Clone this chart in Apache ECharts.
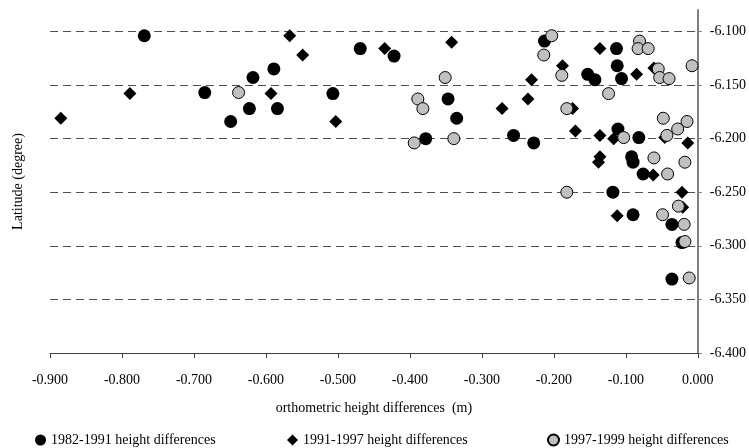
<!DOCTYPE html>
<html>
<head>
<meta charset="utf-8">
<script src="https://cdn.jsdelivr.net/npm/echarts@6/dist/echarts.min.js"></script>
<style>
  html, body { margin: 0; padding: 0; background: #fff; }
  #chart { width: 749px; height: 448px; }
</style>
</head>
<body>
<div id="chart"></div>
<script>
  // 1982-1991 height differences (m), latitude (degree)
  var diff8291 = [-0.769, -0.469, -0.589, -0.618, -0.685, -0.507, -0.623, -0.584, -0.649, -0.422,
    -0.347, -0.335, -0.378, -0.256, -0.228, -0.153, -0.143, -0.112, -0.106, -0.213,
    -0.113, -0.111, -0.082, -0.092, -0.090, -0.076, -0.118, -0.090, -0.036, -0.022, -0.036];
  var lat8291 = [-6.104, -6.116, -6.135, -6.143, -6.157, -6.158, -6.172, -6.172, -6.184, -6.123,
    -6.163, -6.181, -6.200, -6.197, -6.204, -6.140, -6.145, -6.132, -6.144, -6.109,
    -6.116, -6.191, -6.199, -6.217, -6.222, -6.233, -6.250, -6.271, -6.280, -6.297, -6.331];

  // 1991-1997
  var diff9197 = [-0.885, -0.789, -0.593, -0.567, -0.549, -0.503, -0.435, -0.342, -0.272, -0.236,
    -0.231, -0.188, -0.174, -0.170, -0.136, -0.136, -0.117, -0.136, -0.138, -0.085,
    -0.061, -0.046, -0.062, -0.112, -0.014, -0.022, -0.021];
  var lat9197 = [-6.181, -6.158, -6.158, -6.104, -6.122, -6.184, -6.116, -6.110, -6.172, -6.163,
    -6.145, -6.132, -6.172, -6.193, -6.116, -6.197, -6.200, -6.217, -6.222, -6.140,
    -6.134, -6.199, -6.234, -6.272, -6.204, -6.250, -6.264];

  // 1997-1999
  var diff9799 = [-0.638, -0.351, -0.389, -0.382, -0.394, -0.339, -0.203, -0.214, -0.189, -0.182,
    -0.182, -0.124, -0.103, -0.061, -0.042, -0.048, -0.043, -0.028, -0.015, -0.018,
    -0.049, -0.027, -0.019, -0.018, -0.081, -0.083, -0.069, -0.055, -0.053, -0.040,
    -0.008, -0.012];
  var lat9799 = [-6.157, -6.143, -6.163, -6.172, -6.204, -6.200, -6.104, -6.122, -6.141, -6.172,
    -6.250, -6.158, -6.199, -6.218, -6.233, -6.181, -6.197, -6.191, -6.184, -6.222,
    -6.271, -6.263, -6.280, -6.296, -6.109, -6.116, -6.116, -6.135, -6.143, -6.144,
    -6.132, -6.330];

  var names = ['1982-1991 height differences', '1991-1997 height differences', '1997-1999 height differences'];

  function pairs(xs, ys) {
    var out = [];
    for (var i = 0; i < xs.length; i++) {
      out.push([xs[i], ys[i]]);
    }
    return out;
  }

  var font = 'Liberation Serif';
  var chart = echarts.init(document.getElementById('chart'));

  chart.setOption({
    animation: false,
    textStyle: { fontFamily: font, color: '#000' },
    grid: { left: 50, right: 51, top: 10, bottom: 95, containLabel: false },
    legend: [
      { data: [names[0]], left: 30, top: 428, itemWidth: 11, itemHeight: 11,
        textStyle: { fontFamily: font, fontSize: 14, color: '#000' } },
      { data: [names[1]], left: 282, top: 428, itemWidth: 11, itemHeight: 11,
        textStyle: { fontFamily: font, fontSize: 14, color: '#000' } },
      { data: [names[2]], left: 542, top: 428, itemWidth: 11, itemHeight: 11,
        textStyle: { fontFamily: font, fontSize: 14, color: '#000' } }
    ],
    xAxis: {
      type: 'value',
      min: -0.9,
      max: 0,
      interval: 0.1,
      name: 'orthometric height differences  (m)',
      nameLocation: 'middle',
      nameGap: 48,
      nameTextStyle: { fontFamily: font, fontSize: 14, color: '#000' },
      axisLine: { onZero: false, lineStyle: { color: '#404040', width: 1 } },
      axisTick: { show: true, length: 5, lineStyle: { color: '#404040' } },
      axisLabel: {
        fontFamily: font, fontSize: 14, color: '#000', margin: 20,
        formatter: function (v) { return v.toFixed(3); }
      },
      splitLine: { show: false }
    },
    yAxis: [{
      type: 'value',
      position: 'right',
      min: -6.4,
      max: -6.08,
      interval: 0.05,
      axisLine: { show: true, onZero: false, lineStyle: { color: '#808080', width: 2 } },
      axisTick: { show: true, length: 4, lineStyle: { color: '#808080' } },
      axisLabel: {
        fontFamily: font, fontSize: 14, color: '#000', margin: 12,
        showMaxLabel: false,
        formatter: function (v) { return v.toFixed(3); }
      },
      splitLine: {
        show: true, showMinLine: false, showMaxLine: false,
        lineStyle: { color: '#505050', type: [8, 5], width: 1 }
      }
    }, {
      type: 'value',
      position: 'left',
      min: -6.4,
      max: -6.08,
      name: 'Latitude (degree)',
      nameLocation: 'middle',
      nameGap: 25,
      nameTextStyle: { fontFamily: font, fontSize: 14, color: '#000' },
      axisLine: { show: false },
      axisTick: { show: false },
      axisLabel: { show: false },
      splitLine: { show: false }
    }],
    series: [{
      name: names[0],
      type: 'scatter',
      symbol: 'circle',
      symbolSize: 13,
      itemStyle: { color: '#000', opacity: 1 },
      data: pairs(diff8291, lat8291),
      z: 2
    }, {
      name: names[1],
      type: 'scatter',
      symbol: 'diamond',
      symbolSize: 13,
      itemStyle: { color: '#000', opacity: 1 },
      data: pairs(diff9197, lat9197),
      z: 3
    }, {
      name: names[2],
      type: 'scatter',
      symbol: 'circle',
      symbolSize: 12,
      itemStyle: { color: '#c0c0c0', borderColor: '#000', borderWidth: 1, opacity: 1 },
      data: pairs(diff9799, lat9799),
      z: 4
    }]
  });
</script>
</body>
</html>
